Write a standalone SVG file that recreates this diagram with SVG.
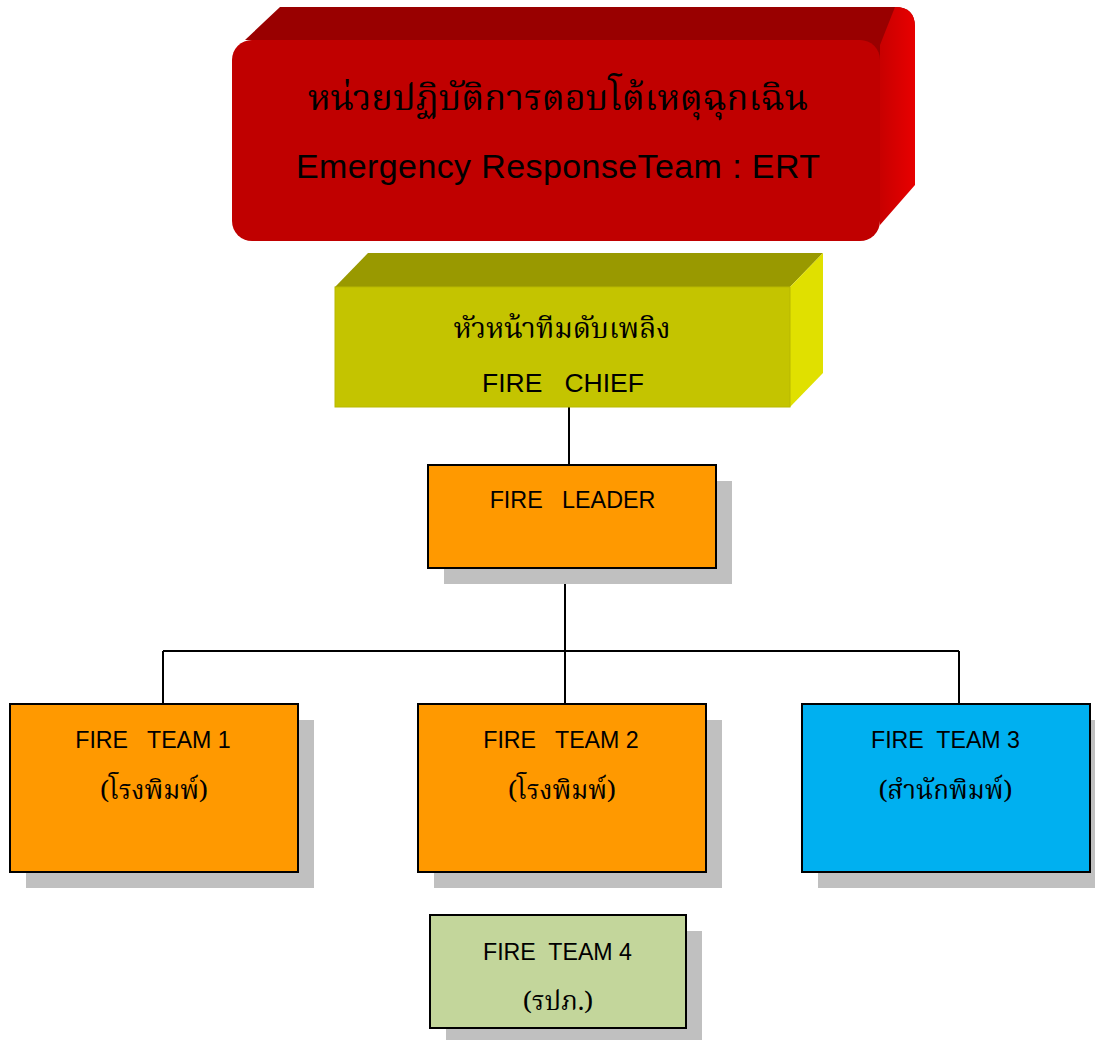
<svg xmlns="http://www.w3.org/2000/svg" width="1095" height="1040" viewBox="0 0 1095 1040">
<defs>
<linearGradient id="redSide" x1="0" y1="0" x2="1" y2="0">
<stop offset="0" stop-color="#C80000"/><stop offset="1" stop-color="#E80000"/>
</linearGradient>
<style>
.en{font-family:"Liberation Sans",Arial,sans-serif;fill:#000;text-anchor:middle;white-space:pre}
.th{font-family:"Noto Serif Thai","Noto Sans Thai","Tlwg Typo","Garuda","Loma","DejaVu Serif",serif;fill:#000;text-anchor:middle}
.box{stroke:#000;stroke-width:2}
.shadow{fill:#C0C0C0}
.line{stroke:#000;stroke-width:2;fill:none}
</style>
</defs>
<rect width="1095" height="1040" fill="#FFFFFF"/>
<g id="connectors">
<path class="line" d="M569 407V465"/>
<path class="line" d="M565 568V704"/>
<path class="line" d="M163 651H959"/>
<path class="line" d="M163 651V704"/>
<path class="line" d="M959 651V704"/>
</g>
<g id="ert">
<path d="M245 40 L280 7 H895 Q915 7 915 27 L880 60 Z" fill="#990000"/>
<path d="M880 45 L895 7 Q915 7 915 27 V185 L880 225 Z" fill="url(#redSide)"/>
<rect x="232" y="40" width="648" height="201" rx="20" fill="#C00000"/>
<text class="th" x="558" y="110" font-size="36">หน่วยปฏิบัติการตอบโต้เหตุฉุกเฉิน</text>
<text class="en" x="558" y="178" font-size="34" textLength="524">Emergency ResponseTeam : ERT</text>
</g>
<g id="chief">
<path d="M335 287 L368 253 H823 L790 287 Z" fill="#999900"/>
<path d="M790 287 L823 253 V373 L790 407 Z" fill="#E0E000"/>
<rect x="335" y="287" width="455" height="120" fill="#C4C400" stroke="#B8B800" stroke-width="1"/>
<text class="th" x="562" y="338" font-size="28.5">หัวหน้าทีมดับเพลิง</text>
<text class="en" x="563" y="392" font-size="26.5">FIRE   CHIEF</text>
</g>
<g id="leader">
<rect class="shadow" x="444" y="481" width="288" height="103"/>
<rect class="box" x="428" y="465" width="288" height="103" fill="#FF9900"/>
<text class="en" x="572.5" y="508" font-size="23.3">FIRE   LEADER</text>
</g>
<g id="team1">
<rect class="shadow" x="26" y="720" width="288" height="168"/>
<rect class="box" x="10" y="704" width="288" height="168" fill="#FF9900"/>
<text class="en" x="153" y="748" font-size="23.2">FIRE   TEAM 1</text>
<text class="th" x="154" y="799" font-size="26">(โรงพิมพ์)</text>
</g>
<g id="team2">
<rect class="shadow" x="434" y="720" width="288" height="168"/>
<rect class="box" x="418" y="704" width="288" height="168" fill="#FF9900"/>
<text class="en" x="561" y="748" font-size="23.2">FIRE   TEAM 2</text>
<text class="th" x="562" y="799" font-size="26">(โรงพิมพ์)</text>
</g>
<g id="team3">
<rect class="shadow" x="818" y="720" width="288" height="168"/>
<rect class="box" x="802" y="704" width="288" height="168" fill="#00B0F0"/>
<text class="en" x="945.5" y="748" font-size="23.2">FIRE  TEAM 3</text>
<text class="th" x="945.5" y="799" font-size="26">(สำนักพิมพ์)</text>
</g>
<g id="team4">
<rect class="shadow" x="446" y="931" width="256" height="113"/>
<rect class="box" x="430" y="915" width="256" height="113" fill="#C3D69B"/>
<text class="en" x="557.5" y="960" font-size="23.2">FIRE  TEAM 4</text>
<text class="th" x="558" y="1010" font-size="26">(รปภ.)</text>
</g>
</svg>
